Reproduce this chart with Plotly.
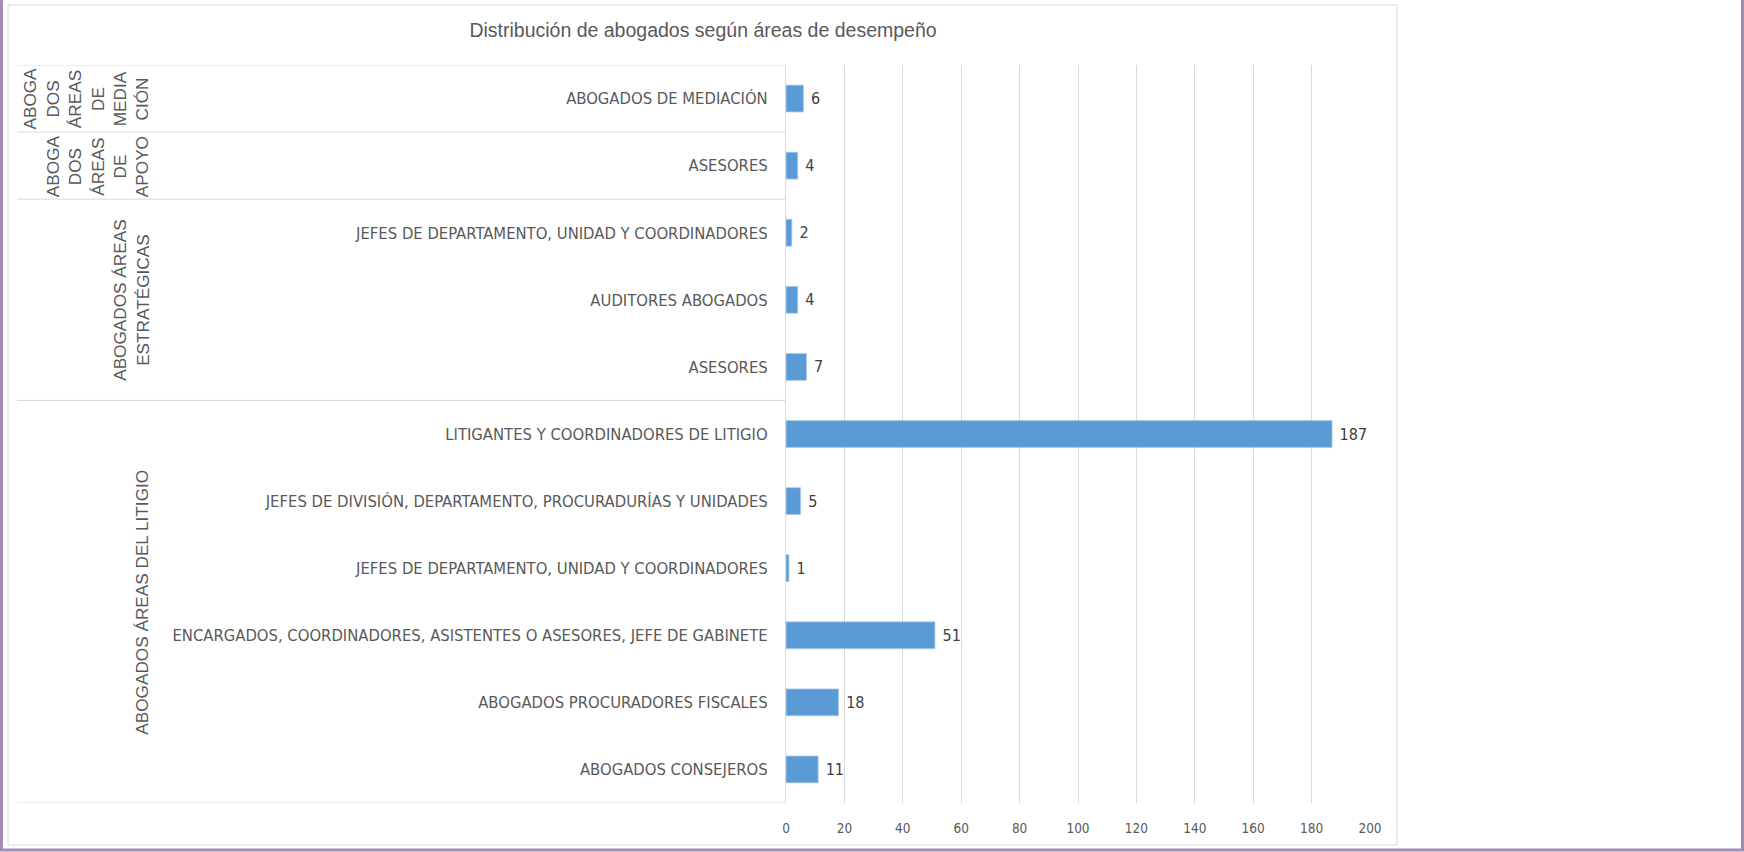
import plotly.graph_objects as go

# ---- data ----
categories = [
    "ABOGADOS DE MEDIACIÓN",
    "ASESORES",
    "JEFES DE DEPARTAMENTO, UNIDAD Y COORDINADORES",
    "AUDITORES ABOGADOS",
    "ASESORES",
    "LITIGANTES Y COORDINADORES DE LITIGIO",
    "JEFES DE DIVISIÓN, DEPARTAMENTO, PROCURADURÍAS Y UNIDADES",
    "JEFES DE DEPARTAMENTO, UNIDAD Y COORDINADORES",
    "ENCARGADOS, COORDINADORES, ASISTENTES O ASESORES, JEFE DE GABINETE",
    "ABOGADOS PROCURADORES FISCALES",
    "ABOGADOS CONSEJEROS",
]
values = [6, 4, 2, 4, 7, 187, 5, 1, 51, 18, 11]
group_labels = [
    "ABOGA<br>DOS<br>ÁREAS<br>DE<br>MEDIA<br>CIÓN",
    "ABOGA<br>DOS<br>ÁREAS<br>DE<br>APOYO",
    "ABOGADOS ÁREAS<br>ESTRATÉGICAS",
    "ABOGADOS ÁREAS DEL LITIGIO",
]
group_sizes = [1, 1, 3, 6]
x_ticks = [0, 20, 40, 60, 80, 100, 120, 140, 160, 180, 200]
title = "Distribución de abogados según áreas de desempeño"

# ---- layout geometry (pixels) ----
W, H = 1744, 852
ML, MR, MT, MB = 786, 374, 65, 49
PW, PH = W - ML - MR, H - MT - MB


def xp(px):
    return (px - ML) / PW


def yp(py):
    return (H - MB - py) / PH


GRID = "#d9d9d9"
TXT = "#595959"
NARROW = "Liberation Sans Narrow, DejaVu Sans Condensed, sans-serif"
REG = "Liberation Sans, Arial, sans-serif"

pos = list(range(len(categories)))

fig = go.Figure(
    go.Bar(
        x=values,
        y=pos,
        orientation="h",
        marker=dict(color="#5B9BD5", line=dict(color="#a9c9ea", width=0.8)),
        width=0.4,
        text=values,
        texttemplate=" %{x}",
        textposition="outside",
        textfont=dict(family=NARROW, size=16, color="#404040"),
        cliponaxis=False,
        hoverinfo="skip",
    )
)

shapes = []
# chart area border
shapes.append(dict(type="rect", xref="paper", yref="paper",
                   x0=xp(8), x1=xp(1397), y0=yp(845), y1=yp(5),
                   line=dict(color=GRID, width=1), layer="below"))
# window frame
shapes.append(dict(type="rect", xref="paper", yref="paper",
                   x0=xp(1.5), x1=xp(W - 1.5), y0=yp(H - 2), y1=yp(-5),
                   line=dict(color="#a58cb4", width=3), layer="above"))

# group separators and labels
annotations = []
start = 0
bounds = [-0.5]
for lbl, n in zip(group_labels, group_sizes):
    end = start + n
    bounds.append(end - 0.5)
    center = (start + end - 1) / 2
    annotations.append(dict(
        xref="paper", yref="y", x=xp(154), y=center,
        text=lbl, textangle=-90, showarrow=False,
        xanchor="right", yanchor="middle", align="center",
        font=dict(family=REG, size=17.2, color=TXT),
    ))
    start = end
for b in bounds:
    shapes.append(dict(type="line", xref="paper", yref="y",
                       x0=xp(17), x1=0, y0=b, y1=b,
                       line=dict(color=GRID, width=1)))

fig.update_layout(
    width=W, height=H,
    margin=dict(l=ML, r=MR, t=MT, b=MB),
    paper_bgcolor="white", plot_bgcolor="white",
    showlegend=False,
    title=dict(text=title, x=703 / W, xanchor="center", y=1 - 30 / H,
               yanchor="middle",
               font=dict(family=REG, size=19.5, color=TXT)),
    shapes=shapes,
    annotations=annotations,
    xaxis=dict(range=[0, 200], tickvals=x_ticks, showgrid=True,
               gridcolor=GRID, gridwidth=1, zeroline=False, showline=False,
               ticks="", ticklabelstandoff=15,
               tickfont=dict(family=NARROW, size=13.5, color=TXT)),
    yaxis=dict(range=[len(categories) - 0.5, -0.5], tickvals=pos,
               ticktext=categories, showgrid=False, zeroline=False,
               showline=True, linecolor=GRID, linewidth=1,
               ticks="", ticklabelstandoff=14,
               tickfont=dict(family=NARROW, size=16.5, color=TXT)),
)

fig.write_html(
    "out.html",
    config={"displayModeBar": False},
    post_script="document.body.style.margin='0';document.body.style.overflow='hidden';",
)
